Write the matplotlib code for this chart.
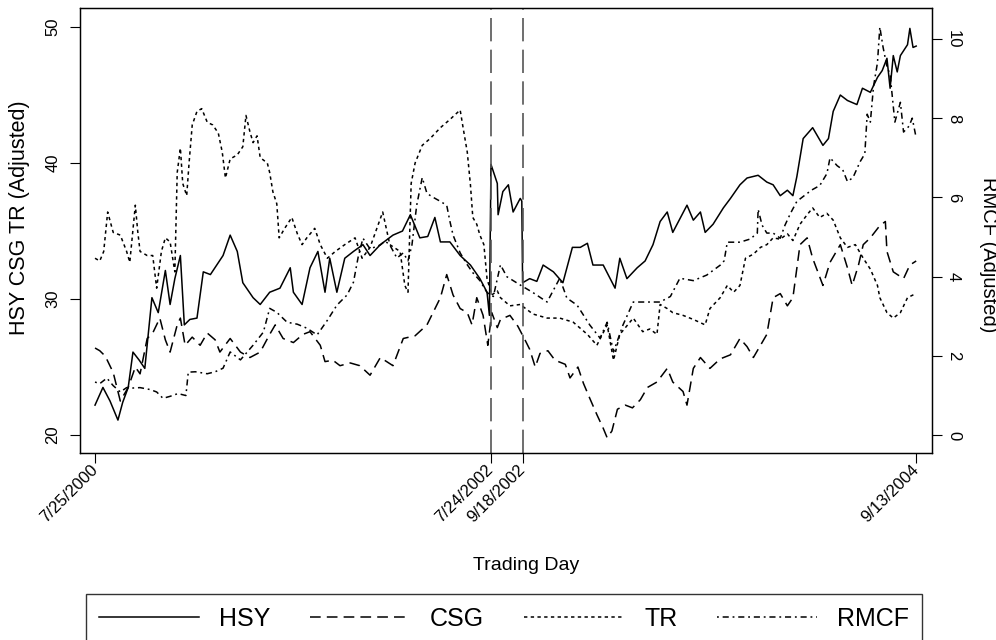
#!/usr/bin/env python3

import matplotlib
matplotlib.use("Agg")
import matplotlib.pyplot as plt
from matplotlib.lines import Line2D

plt.rcParams['font.family'] = ['Liberation Sans', 'DejaVu Sans']

# trading day index (0 = 7/25/2000) and adjusted prices
hsy_day = [0, 10, 19, 29, 35, 42, 48, 56, 63, 72, 80, 89, 95, 101, 108, 113, 120, 129,
           137, 146, 154, 162, 171, 180, 187, 200, 209, 221, 234, 247, 251, 262, 272,
           282, 291, 297, 306, 316, 327, 339, 348, 361, 377, 389, 399, 411, 421, 430,
           437, 449, 462, 475, 487, 496, 499, 501, 509, 510, 516, 523, 529, 538, 540,
           541, 550, 559, 567, 580, 592, 604, 614, 623, 630, 643, 658, 664, 673, 686,
           696, 706, 715, 724, 731, 749, 757, 766, 772, 782, 795, 804, 816, 825, 839,
           850, 858, 867, 876, 883, 888, 896, 908, 921, 928, 934, 943, 952, 964, 971,
           981, 990, 996, 1002, 1006, 1010, 1015, 1019, 1028, 1031, 1035, 1039]
hsy = [22.2, 23.5, 22.5, 21.1, 22.4, 23.5, 26.1, 25.5, 24.9, 30.1, 29.0, 32.1, 29.6,
       31.5, 33.2, 28.1, 28.5, 28.6, 32.0, 31.8, 32.5, 33.2, 34.7, 33.5, 31.2, 30.1,
       29.6, 30.5, 30.8, 32.3, 30.5, 29.6, 32.3, 33.5, 30.5, 33.0, 30.5, 33.0, 33.5,
       34.0, 33.2, 34.0, 34.7, 35.0, 36.2, 34.5, 34.6, 36.0, 34.2, 34.2, 33.2, 32.5,
       31.5, 30.5, 28.8, 39.9, 38.5, 36.2, 37.9, 38.4, 36.4, 37.4, 37.2, 31.2, 31.5,
       31.3, 32.5, 32.0, 31.2, 33.8, 33.8, 34.1, 32.5, 32.5, 30.8, 33.0, 31.5, 32.3,
       32.8, 34.0, 35.7, 36.4, 34.9, 36.9, 35.8, 36.4, 34.9, 35.5, 36.7, 37.4, 38.4,
       38.9, 39.1, 38.6, 38.4, 37.6, 38.0, 37.6, 39.0, 41.8, 42.6, 41.3, 41.8, 43.8,
       45.0, 44.6, 44.3, 45.5, 45.2, 46.3, 46.8, 47.7, 45.5, 47.9, 46.7, 47.9, 48.7,
       49.9, 48.5, 48.6]

csg_day = [0, 6, 13, 23, 32, 42, 51, 57, 66, 73, 82, 89, 95, 104, 108, 114, 123, 133,
           142, 152, 158, 171, 184, 196, 209, 221, 228, 238, 251, 263, 272, 285, 291,
           301, 310, 323, 335, 348, 361, 377, 390, 405, 420, 437, 445, 453, 462, 471,
           477, 483, 491, 497, 502, 509, 513, 525, 535, 544, 550, 557, 563, 573, 582,
           595, 601, 611, 618, 626, 635, 643, 648, 654, 661, 671, 680, 690, 699, 711,
           724, 731, 744, 749, 757, 766, 778, 791, 804, 816, 825, 833, 842, 850, 858,
           867, 876, 883, 892, 901, 908, 921, 930, 943, 952, 958, 966, 972, 981, 993,
           1000, 1002, 1010, 1023, 1031, 1039]
csg = [26.4, 26.2, 25.8, 24.6, 22.5, 23.5, 25.0, 24.5, 27.1, 27.5, 28.6, 27.0, 26.1,
       28.1, 28.6, 26.6, 27.2, 26.6, 27.5, 27.0, 26.1, 27.1, 26.1, 25.7, 26.1, 27.4,
       28.1, 27.1, 26.8, 27.4, 27.6, 26.6, 25.4, 25.5, 25.1, 25.3, 25.1, 24.4, 25.7,
       25.1, 27.1, 27.3, 28.1, 30.1, 31.8, 30.3, 29.3, 29.0, 28.1, 30.1, 28.8, 26.6,
       29.0, 27.9, 28.5, 28.8, 28.0, 27.0, 26.3, 25.0, 26.0, 26.2, 25.5, 25.2, 24.2,
       25.0, 23.8, 22.7, 21.5, 20.5, 19.8, 20.3, 21.9, 22.2, 22.0, 22.6, 23.5, 23.9,
       24.9, 23.9, 23.2, 22.2, 24.9, 25.7, 24.9, 25.6, 25.9, 27.1, 26.5, 25.7, 26.6,
       27.4, 30.1, 30.4, 29.5, 30.1, 34.0, 34.5, 33.0, 31.0, 32.7, 34.0, 32.3, 31.0,
       32.5, 34.0, 34.5, 35.4, 35.7, 33.5, 32.0, 31.5, 32.5, 32.8]

tr_day = [0, 6, 11, 16, 23, 32, 40, 44, 51, 54, 57, 66, 73, 78, 84, 89, 95, 101, 104,
          108, 111, 116, 119, 123, 129, 135, 142, 149, 156, 161, 165, 171, 180, 187,
          191, 196, 200, 205, 209, 218, 221, 225, 230, 233, 240, 249, 256, 262, 268,
          278, 285, 294, 304, 316, 329, 338, 348, 364, 373, 386, 392, 396, 400, 405,
          414, 424, 437, 449, 462, 466, 471, 475, 478, 483, 487, 492, 496, 502, 509,
          513, 525, 538, 554, 572, 588, 605, 623, 635, 648, 656, 664, 681, 693, 702,
          711, 715, 724, 731, 744, 757, 772, 778, 791, 800, 808, 816, 823, 833, 842,
          850, 858, 867, 876, 883, 892, 901, 908, 917, 926, 934, 943, 952, 962, 972,
          981, 990, 993, 1002, 1010, 1019, 1028, 1035, 1039]
tr = [33.0, 32.8, 33.5, 36.4, 34.9, 34.7, 33.5, 32.7, 36.9, 35.0, 33.5, 33.2, 33.2,
      30.8, 33.5, 34.5, 34.2, 32.0, 39.3, 41.1, 38.5, 37.6, 40.0, 42.8, 43.8, 44.0,
      43.0, 42.8, 42.2, 40.8, 38.9, 40.3, 40.6, 41.2, 43.5, 42.3, 41.5, 42.0, 40.4,
      40.0, 39.3, 37.9, 37.0, 34.5, 35.2, 36.0, 34.8, 34.0, 34.5, 35.2, 34.0, 33.0,
      33.5, 34.0, 34.5, 33.0, 33.8, 36.4, 34.0, 33.5, 31.0, 30.5, 38.5, 40.0, 41.3,
      41.8, 42.6, 43.2, 43.9, 42.5, 40.8, 38.4, 36.0, 35.5, 34.7, 34.0, 31.5, 30.3,
      30.6, 30.1, 29.5, 29.6, 28.9, 28.6, 28.6, 28.3, 27.4, 26.6, 28.1, 25.5, 27.4,
      28.6, 27.6, 27.8, 27.4, 29.6, 29.3, 29.0, 28.8, 28.5, 28.1, 29.3, 30.1, 31.0,
      30.5, 31.0, 33.0, 33.3, 33.8, 34.0, 34.5, 34.4, 34.8, 34.3, 35.5, 36.2, 36.7,
      36.0, 36.3, 35.8, 34.5, 33.8, 34.0, 33.0, 32.2, 31.0, 30.1, 29.0, 28.6, 29.0,
      30.1, 30.3, 30.4]

rmcf_day = [0, 6, 15, 23, 32, 40, 48, 57, 70, 78, 86, 95, 105, 115, 118, 127, 142, 152,
            162, 171, 184, 200, 213, 221, 230, 243, 256, 268, 281, 294, 306, 319, 327,
            333, 339, 348, 361, 367, 373, 382, 390, 396, 401, 407, 414, 420, 428, 437,
            445, 449, 453, 462, 471, 478, 487, 496, 504, 513, 521, 538, 554, 572, 588,
            597, 610, 626, 639, 648, 656, 668, 681, 693, 715, 728, 740, 757, 774, 791,
            796, 800, 816, 829, 838, 839, 844, 850, 858, 867, 873, 880, 888, 901, 908,
            917, 926, 930, 939, 946, 952, 959, 968, 974, 977, 981, 985, 990, 993, 997,
            1002, 1006, 1012, 1019, 1023, 1030, 1034, 1039]
rmcf = [1.34, 1.3, 1.44, 1.25, 1.09, 1.2, 1.19, 1.2, 1.15, 1.09, 0.93, 0.98, 1.05, 1.0,
        1.59, 1.6, 1.55, 1.6, 1.69, 2.1, 1.9, 2.27, 2.6, 3.2, 3.1, 2.85, 2.8, 2.7, 2.53,
        2.9, 3.28, 3.54, 3.86, 4.5, 4.97, 4.7, 4.8, 4.9, 4.8, 4.47, 4.6, 4.4, 4.8, 5.8,
        6.5, 6.1, 6.0, 5.9, 5.8, 5.4, 5.05, 4.6, 4.3, 4.1, 3.9, 3.6, 3.5, 4.3, 4.0, 3.79,
        3.6, 3.36, 3.96, 3.46, 3.28, 2.78, 2.45, 2.85, 2.1, 2.78, 3.36, 3.36, 3.36, 3.5,
        3.96, 3.9, 4.04, 4.29, 4.4, 4.87, 4.87, 4.95, 5.1, 5.7, 5.3, 5.1, 5.1, 4.97, 5.3,
        5.6, 5.9, 6.1, 6.2, 6.3, 6.6, 7.0, 6.8, 6.7, 6.4, 6.5, 6.9, 7.1, 8.1, 7.9, 8.8,
        9.4, 10.3, 9.8, 9.3, 9.1, 7.9, 8.4, 7.65, 7.8, 8.0, 7.5]

tick_days = [0, 501, 541, 1039]
tick_dates = ['7/25/2000', '7/24/2002', '9/18/2002', '9/13/2004']
event_days = [501, 541]

names = ['HSY', 'CSG', 'TR', 'RMCF']
dash_styles = ['-', (0, (7, 4)), (0, (2.2, 2.2)), (0, (1.2, 2.5, 4, 2.5))]

W, H = 996, 640
fig = plt.figure(figsize=(W / 100, H / 100), dpi=100)
ax = fig.add_axes([80 / W, 187 / H, 852 / W, 445 / H])
ax2 = ax.twinx()

lw = 1.1
ax.plot(hsy_day, hsy, color='black', lw=lw, ls=dash_styles[0])
ax.plot(csg_day, csg, color='black', lw=lw, ls=dash_styles[1])
ax.plot(tr_day, tr, color='black', lw=lw, ls=dash_styles[2])
ax2.plot(rmcf_day, rmcf, color='black', lw=lw, ls=dash_styles[3])

for d in event_days:
    ax.axvline(d, color='#555555', lw=1.2, ls=(0, (14, 5)))

ax.set_xlim(-19, 1059)
ax.set_ylim(18.68, 51.4)
ax2.set_ylim(-0.45, 10.78)

ax.set_xticks(tick_days)
ax.set_xticklabels(tick_dates, rotation=45, ha='right', va='center',
                   rotation_mode='anchor', fontsize=12)
ax.set_yticks([20, 30, 40, 50])
ax.set_yticklabels(['20', '30', '40', '50'], rotation=90, va='center', fontsize=12)
ax2.set_yticks([0, 2, 4, 6, 8, 10])
ax2.set_yticklabels(['0', '2', '4', '6', '8', '10'], rotation=270, va='center',
                    fontsize=12)

ax.tick_params(axis='x', length=7, width=0.8, pad=3)
ax.tick_params(axis='y', length=7, width=0.8, pad=7)
ax2.tick_params(axis='y', length=7, width=0.8, pad=3)
for a in (ax, ax2):
    for s in a.spines.values():
        s.set_linewidth(0.9)

fig.text(20 / W, 1 - 218 / H, 'HSY CSG TR (Adjusted)', rotation=90,
         ha='center', va='center', fontsize=15.5)
fig.text(988 / W, 1 - 255 / H, 'RMCF (Adjusted)', rotation=270,
         ha='center', va='center', fontsize=14.5)
fig.text(526 / W, 1 - 566 / H, 'Trading Day', ha='center', va='center', fontsize=14)

handles = [Line2D([], [], color='black', lw=lw, ls=s) for s in dash_styles]
leg = fig.legend(handles, names, loc='upper center', ncol=4,
                 bbox_to_anchor=(504 / W, 1 - 594 / H), borderaxespad=0,
                 fontsize=18, handlelength=4.0, handletextpad=0.8,
                 columnspacing=1.6, borderpad=0.5, frameon=True, fancybox=False)
leg.get_frame().set_edgecolor('black')
leg.get_frame().set_linewidth(1.0)

fig.savefig('out.png', dpi=100)
